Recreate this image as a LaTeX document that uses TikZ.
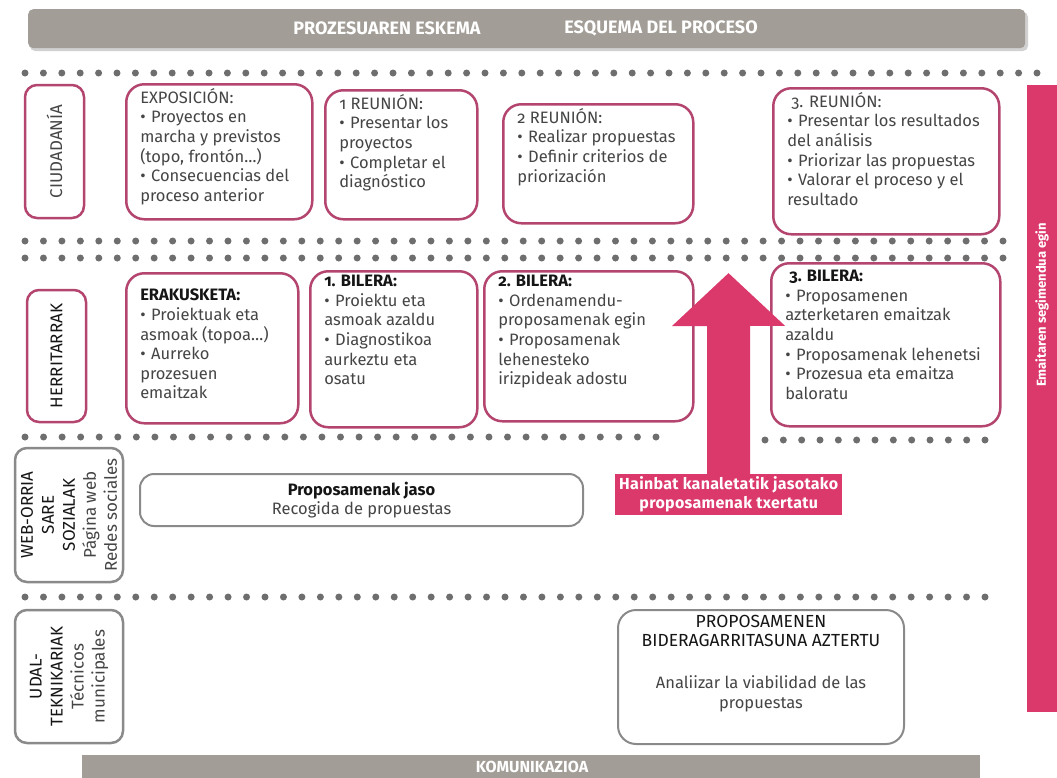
\documentclass[tikz,border=0pt]{standalone}
\usepackage{fontspec}
\setmainfont{Fira Sans}[Numbers=OldStyle]
\newfontfamily\labf{Fira Sans}[LetterSpace=2]
\usetikzlibrary{arrows.meta}
\definecolor{banner}{HTML}{A29D96}
\definecolor{dotc}{HTML}{6E6E6E}
\definecolor{pinkb}{HTML}{B3456F}
\definecolor{pinkf}{HTML}{DB386C}
\definecolor{grayb}{HTML}{8A8A8A}
\definecolor{txt}{HTML}{454545}
\definecolor{txtd}{HTML}{151515}
\newcommand\bul[1]{\par\hangindent=0.66em\hangafter=1\noindent\makebox[0.66em][l]{•}#1}
\newcommand\bx[3]{\begin{minipage}[t][#2pt][t]{#1pt}\setlength\parindent{0pt}\raggedright #3\par\end{minipage}}
\newcommand\dotrow[4]{\pgfmathsetmacro\dstep{(#2-#1)/(#4-1)}\foreach \i in {1,...,#4}{\fill[dotc] ({#1+(\i-1)*\dstep},#3) circle (3.5);}}
\begin{document}
\begin{tikzpicture}[x=1pt,y=-1pt,
  every node/.style={font=\fontsize{16.5}{19.6}\selectfont, text=txt},
  pbox/.style={draw=pinkb, line width=2.5pt, rounded corners=18pt, inner xsep=14pt, inner ysep=4pt, anchor=north west, fill=white},
  lbox/.style={draw=#1, line width=2.5pt, rounded corners=12pt, inner sep=0pt, rotate=90, align=center, fill=white, font=\fontsize{17}{21}\selectfont},
  gbox/.style={draw=grayb, line width=2pt, rounded corners=14pt, inner sep=0pt, anchor=north west, fill=white},
  bantext/.style={text=white, font=\fontsize{18}{20}\selectfont\bfseries}
]
\useasboundingbox (0,0) rectangle (1057,777);
% banners
\fill[black!18, rounded corners=5pt] (30,12) rectangle (1028,51);
\node[fill=banner, rounded corners=5pt, anchor=north west, minimum width=997, minimum height=39, inner sep=0] (topbar) at (28,9) {};
\node[bantext] (t1) at (387,28) {PROZESUAREN ESKEMA};
\node[bantext] (t2) at (661,28) {ESQUEMA DEL PROCESO};
\node[fill=banner, anchor=north west, minimum width=898, minimum height=25, inner sep=0] (botbar) at (82,755) {};
\node[bantext, font=\fontsize{16}{18}\selectfont\bfseries] (t3) at (532,767) {KOMUNIKAZIOA};
% dotted rows
\dotrow{25}{1037}{73}{56}
\dotrow{25}{1003}{241}{54}
\dotrow{25}{1003}{258}{54}
\dotrow{25}{656}{437}{35}
\dotrow{765}{985}{440}{13}
\dotrow{25}{985}{597}{53}
% right bar
\node[fill=pinkf, anchor=north west, minimum width=30, minimum height=627, inner sep=0] (bar) at (1027,85) {};
\node[rotate=90, text=white, font=\fontsize{13}{15}\selectfont\bfseries] (bartxt) at (1042,305) {Emaitaren segimendua egin};
% row labels
\node[lbox=pinkb, minimum width=133, minimum height=59] (ciu) at (54.5,151.5) {CIUDADANÍA};
\node[lbox=pinkb, minimum width=132, minimum height=59, text=txtd] (her) at (56.5,356) {HERRITARRAK};
\node[lbox=grayb, minimum width=134, minimum height=108] (web) at (69,515) {\textcolor{txtd}{WEB-ORRIA}\\\textcolor{txtd}{SARE}\\\textcolor{txtd}{SOZIALAK}\\Página web\\Redes sociales};
\node[lbox=grayb, minimum width=133, minimum height=108] (udal) at (69,676.5) {\textcolor{txtd}{UDAL-}\\\textcolor{txtd}{TEKNIKARIAK}\\Técnicos\\municipales};
% CIUDADANIA row
\node[pbox] (exp) at (125,83) {\bx{158}{127}{EXPOSICIÓN:
  \bul{Proyectos en\\marcha y previstos\\(topo, frontón…)}
  \bul{Consecuencias del\\proceso anterior}}};
\node[pbox] (r1) at (324,89) {\bx{124}{121}{1 REUNIÓN:
  \bul{Presentar los\\proyectos}
  \bul{Completar el\\diagnóstico}}};
\node[pbox] (r2) at (502,103) {\bx{162}{111}{2 REUNIÓN:
  \bul{Realizar propuestas}
  \bul{Definir criterios de\\priorización}}};
\node[pbox] (r3) at (772,87) {\bx{198}{138}{\hspace*{4pt}3. REUNIÓN:
  \bul{Presentar los resultados\\del análisis}
  \bul{Priorizar las propuestas}
  \bul{Valorar el proceso y el\\resultado}}};
% HERRITARRAK row
\node[pbox] (era) at (125,272) {\bx{144}{142}{\vspace*{12pt}{\bfseries\color{txtd} ERAKUSKETA:}
  \bul{Proiektuak eta\\asmoak (topoa…)}
  \bul{Aurreko\\prozesuen\\emaitzak}}};
\node[pbox] (b1) at (309,270) {\bx{139}{148}{{\bfseries\color{txtd} 1. BILERA:}
  \bul{Proiektu eta\\asmoak azaldu}
  \bul{Diagnostikoa\\aurkeztu eta\\osatu}}};
\node[pbox] (b2) at (483,270) {\bx{181}{142}{{\bfseries\color{txtd} 2. BILERA:}
  \bul{Ordenamendu-\\proposamenak egin}
  \bul{Proposamenak\\lehenesteko\\irizpideak adostu}}};
\node[pbox] (b3) at (770,262) {\bx{201}{155}{\vspace*{3pt}\hspace*{4pt}{\bfseries\color{txtd} 3. BILERA:}
  \bul{Proposamenen\\azterketaren emaitzak\\azaldu}
  \bul{Proposamenak lehenetsi}
  \bul{Prozesua eta emaitza\\baloratu}}};
% web row
\node[gbox, minimum width=443, minimum height=52, align=center] (jaso) at (139,473) {{\bfseries\color{txtd} Proposamenak jaso}\\Recogida de propuestas};
% arrow
\node[fill=pinkf, anchor=north west, minimum width=227, minimum height=41, inner sep=0, align=center, text=white, font=\fontsize{16}{19}\labf\bfseries] (lab) at (615,474) {Hainbat kanaletatik jasotako\\proposamenak txertatu};
\coordinate (tip) at (728.5,273);
\draw[pinkf, line width=43pt, -{Triangle[width=110pt,length=53pt]}] (lab.north) -- (tip);
% udal row
\node[gbox, rounded corners=18pt, inner xsep=10pt, inner ysep=5pt] (bid) at (617,609) {\begin{minipage}[t][124pt][t]{266pt}\centering{\color{txtd}\fontsize{17.5}{21}\selectfont PROPOSAMENEN\\BIDERAGARRITASUNA AZTERTU}\\[22pt]Analiizar la viabilidad de las\\propuestas\end{minipage}};
\end{tikzpicture}
\end{document}
